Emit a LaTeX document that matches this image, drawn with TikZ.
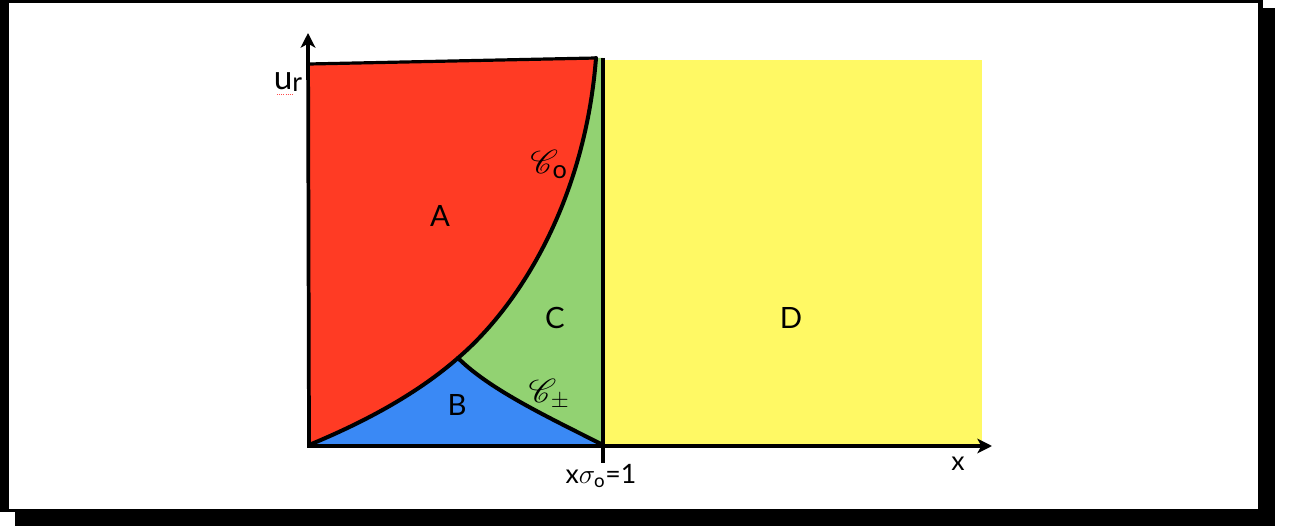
\documentclass[tikz,border=0pt]{standalone}
\usepackage{fontspec}
\setmainfont{Lato}
\usepackage{mathrsfs}
\usetikzlibrary{arrows.meta}
\definecolor{regA}{RGB}{255,59,36}
\definecolor{regB}{RGB}{58,137,245}
\definecolor{regC}{RGB}{146,210,114}
\definecolor{regD}{RGB}{255,249,100}
\tikzset{
  bd/.style={line width=3pt, line cap=round, line join=round},
  axisline/.style={line width=2.8pt, -{Stealth[length=11pt,width=11pt,inset=3pt]}},
  big/.style={font=\fontsize{22}{24}\selectfont, inner sep=0pt},
  mlbl/.style={font=\fontsize{27}{29}\selectfont, inner sep=0pt},
  lbl/.style={font=\fontsize{20}{22}\selectfont, inner sep=0pt},
}
\begin{document}
\begin{tikzpicture}[x=0.75pt,y=-0.75pt]
\useasboundingbox (0,0) rectangle (1293,527);
% frame with shadow
\fill[black] (15,8) rectangle (1275,526);
\fill[black] (0,0) rectangle (1263,512);
\fill[white] (9,3) rectangle (1258,509);
% coordinates
\coordinate (O) at (309,445);
\coordinate (P) at (458,358);
\coordinate (T) at (596,58);
\coordinate (TL) at (309,64);
\coordinate (E) at (603,445);
\coordinate (VT) at (603,58);
\coordinate (VB) at (603,463);
\coordinate (YT) at (308,33);
\coordinate (XT) at (992,446);
% regions
\fill[regD] (605,60) rectangle (982,445);
\fill[regA] (O) -- (TL) -- (T) .. controls (585,200) and (520,305) .. (P) .. controls (410,400) and (350,428) .. (O) -- cycle;
\fill[regC] (P) .. controls (520,305) and (585,200) .. (T) -- (VT) -- (E) .. controls (550,418) and (490,390) .. (P) -- cycle;
\fill[regB] (O) .. controls (350,428) and (410,400) .. (P) .. controls (490,390) and (550,418) .. (E) -- cycle;
% boundaries
\draw[bd, line width=2.4pt] (TL) -- (T);
\draw[bd] (O) .. controls (350,428) and (410,400) .. (P) .. controls (520,305) and (585,200) .. (T);
\draw[bd] (P) .. controls (490,390) and (550,418) .. (E);
\draw[bd, line cap=butt] (VT) -- (VB);
% axes
\draw[axisline] (O) -- (YT);
\draw[axisline] (307,446) -- (XT);
% labels
\node[big, font=\fontsize{25}{27}\selectfont] (ur) at (288,82) {u\raisebox{-1pt}{\fontsize{20}{20}\selectfont r}};
\draw[red!70, densely dotted, line width=0.6pt] (277,94) -- (293,94);
\node[big] (lA) at (440,216) {A};
\node[big] (lB) at (457,405) {B};
\node[big] (lC) at (555,318) {C};
\node[big] (lD) at (791,318) {D};
\node[mlbl] (lC0) at (549,164) {$\mathscr{C}_{\mathrm{o}}$};
\node[mlbl] (lCpm) at (549,394) {$\mathscr{C}_{\pm}$};
\node[lbl] (lx) at (958,464) {x};
\node[lbl] (lxs) at (601,476) {x$\sigma_{\mathrm{o}}$=1};
\end{tikzpicture}
\end{document}
